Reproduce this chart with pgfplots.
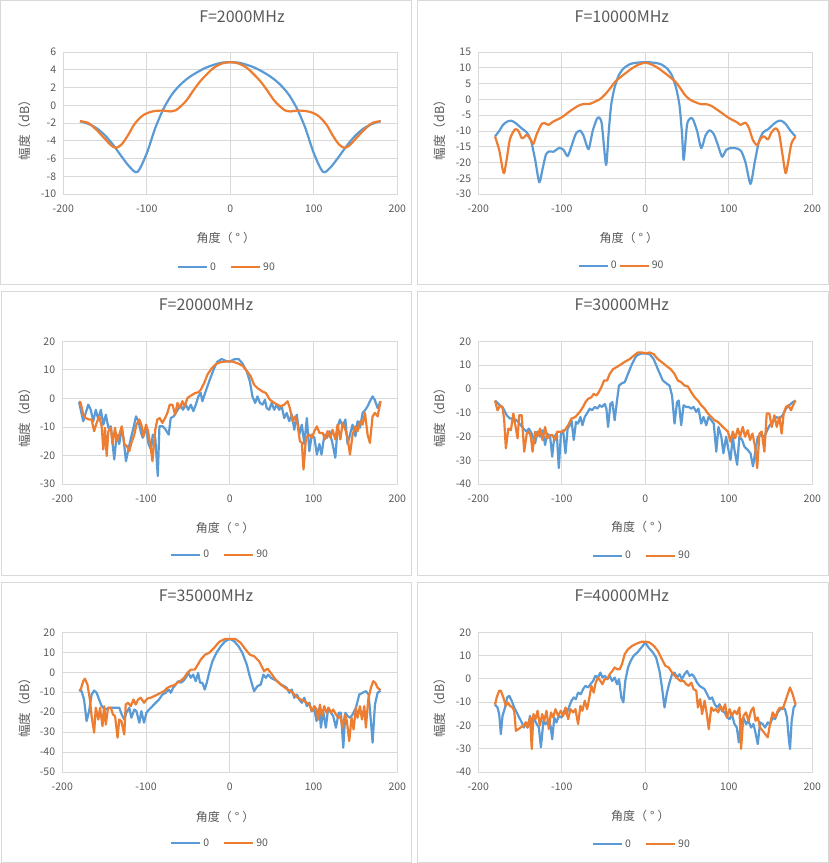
\documentclass[border=0pt]{standalone}
\usepackage{pgfplots}
\pgfplotsset{compat=1.18}
\usepackage{fontspec}
\setmainfont{Noto Sans CJK SC}
\definecolor{cblue}{HTML}{5B9BD5}
\definecolor{corange}{HTML}{ED7D31}
\definecolor{cgrid}{HTML}{D9D9D9}
\definecolor{ctext}{HTML}{595959}
\pgfplotsset{
  exstyle/.style={
    scale only axis, width=334bp, height=142bp,
    xmin=-200, xmax=200, xtick={-200,-100,0,100,200},
    grid=major, grid style={cgrid, line width=0.75bp},
    axis line style={cgrid, line width=0.75bp},
    major tick length=0pt,
    tick label style={font=\fontsize{10.5bp}{12bp}\selectfont, text=ctext, inner sep=0pt},
    xticklabel style={anchor=base, yshift=-18.8bp},
    yticklabel style={anchor=base east, xshift=-7bp, yshift=-3.8bp},
    /pgf/number format/assume math mode=true,
    xlabel={角度（\hspace{0.25em}°\hspace{0.25em}）}, ylabel={幅度（dB）},
    label style={font=\fontsize{12bp}{14bp}\selectfont, text=ctext},
    ylabel style={font=\fontsize{12.5bp}{14bp}\selectfont},
    title style={font=\fontsize{16bp}{18bp}\selectfont, text=ctext, anchor=base},
    legend style={draw=none, fill=none, font=\fontsize{10.5bp}{12bp}\selectfont, text=ctext, anchor=center, legend columns=2,
      /tikz/every even column/.append style={column sep=12bp}},
    legend image code/.code={\draw[##1, line width=2.2bp] (0bp,0bp) -- (29bp,0bp);},
    every axis plot/.append style={line width=2.2bp, line join=round},
  }
}
\begin{document}
\begin{tikzpicture}
\path[fill=white] (0,0) rectangle (829bp,863bp);
% panel borders
\draw[cgrid, line width=0.75bp] (0.5bp,579bp) rectangle (411.5bp,862.5bp);
\draw[cgrid, line width=0.75bp] (417.5bp,579bp) rectangle (828bp,862.5bp);
\draw[cgrid, line width=0.75bp] (1bp,288bp) rectangle (411bp,572bp);
\draw[cgrid, line width=0.75bp] (417.5bp,288bp) rectangle (828bp,572bp);
\draw[cgrid, line width=0.75bp] (1bp,0.5bp) rectangle (411bp,281bp);
\draw[cgrid, line width=0.75bp] (417.5bp,0.5bp) rectangle (828bp,281bp);

% ---------- Panel 1 ----------
\begin{axis}[exstyle, at={(63.3bp,669bp)}, anchor=south west,
  ymin=-10, ymax=6, ytick={-10,-8,...,6},
  title={F=2000MHz}, title style={at={(axis description cs:0.535,1.1676)}},
  xlabel style={at={(axis description cs:0.487,-0.308)}, anchor=center},
  ylabel style={at={(axis description cs:-0.115,0.47)}, anchor=center, rotate=0},
  legend style={at={(axis description cs:0.49,-0.514)}}]
\addplot[cblue, smooth, tension=0.5] coordinates {(-180,-1.8) (-170,-2.1) (-160,-2.6) (-150,-3.4) (-140,-4.5) (-130,-5.8) (-120,-7.0) (-111,-7.5) (-100,-5.4) (-90,-2.6) (-80,-0.4) (-70,1.2) (-60,2.3) (-50,3.1) (-40,3.7) (-30,4.2) (-20,4.55) (-10,4.8) (0,4.85) (10,4.8) (20,4.55) (30,4.2) (40,3.7) (50,3.1) (60,2.3) (70,1.2) (80,-0.4) (90,-2.6) (100,-5.4) (111,-7.5) (120,-7.0) (130,-5.8) (140,-4.5) (150,-3.4) (160,-2.6) (170,-2.1) (180,-1.8)};
\addplot[corange, smooth, tension=0.5] coordinates {(-180,-1.8) (-170,-2.0) (-160,-2.8) (-150,-3.8) (-143,-4.5) (-137,-4.8) (-130,-4.4) (-122,-3.3) (-116,-2.3) (-110,-1.6) (-104,-1.1) (-97,-0.8) (-90,-0.65) (-80,-0.6) (-72,-0.7) (-65,-0.55) (-58,0.0) (-52,0.6) (-44,1.7) (-36,2.7) (-28,3.5) (-20,4.2) (-10,4.7) (0,4.85) (10,4.7) (20,4.2) (28,3.5) (36,2.7) (44,1.7) (52,0.6) (58,0.0) (65,-0.55) (72,-0.7) (80,-0.6) (90,-0.65) (97,-0.8) (104,-1.1) (110,-1.6) (116,-2.3) (122,-3.3) (130,-4.4) (137,-4.8) (143,-4.5) (150,-3.8) (160,-2.8) (170,-2.0) (180,-1.8)};
\legend{0,90}
\end{axis}

% ---------- Panel 2 ----------
\begin{axis}[exstyle, at={(478.3bp,669bp)}, anchor=south west,
  ymin=-30, ymax=15, ytick={-30,-25,...,15},
  title={F=10000MHz}, title style={at={(axis description cs:0.43,1.1676)}},
  xlabel style={at={(axis description cs:0.451,-0.308)}, anchor=center},
  ylabel style={at={(axis description cs:-0.115,0.47)}, anchor=center, rotate=0},
  legend style={at={(axis description cs:0.429,-0.505)}, /tikz/every even column/.append style={column sep=0bp}}]
\addplot[cblue, smooth, tension=0.4] coordinates {(-180,-11.8) (-175,-10) (-170,-8) (-165,-7.0) (-160,-6.8) (-155,-7.6) (-148,-9.2) (-142,-10.5) (-137,-13) (-132,-19) (-127,-26.3) (-123,-22) (-119,-17.5) (-115,-16.5) (-110,-16.6) (-103,-15.4) (-98,-16) (-93,-18) (-88,-14.5) (-83,-10.8) (-78,-9.9) (-74,-11.5) (-68,-15.8) (-63,-10) (-58,-6.2) (-55,-5.8) (-52,-8) (-47,-20.8) (-44,-11) (-41,-2) (-37,3.5) (-32,7.5) (-26,9.8) (-18,11.2) (-10,11.6) (0,11.8) (10,11.6) (18,11.2) (26,9.8) (32,7.5) (37,3.5) (41,-2) (44,-11) (46,-19.2) (50,-8) (54,-6) (57,-6.3) (62,-10) (67,-15.5) (72,-11.5) (77,-9.8) (82,-11) (87,-14.5) (92,-18.2) (97,-16) (103,-15.4) (110,-15.6) (115,-16.5) (120,-20) (126,-26.8) (131,-20) (136,-13.5) (141,-10.5) (147,-9.5) (153,-8) (158,-7) (163,-6.8) (168,-7.8) (174,-10) (180,-11.8)};
\addplot[corange, smooth, tension=0.4] coordinates {(-180,-11.8) (-175,-16) (-171,-22) (-169,-23.4) (-166,-19) (-162,-12.5) (-156,-9.5) (-152,-10) (-148,-12.3) (-145,-12) (-142,-11.2) (-138,-12.5) (-134,-14.1) (-130,-11) (-124,-7.8) (-120,-7.6) (-116,-8.1) (-110,-7) (-100,-5.7) (-90,-3.7) (-80,-2.0) (-74,-1.5) (-66,-1.4) (-60,-0.7) (-54,0.1) (-48,1.6) (-42,3.5) (-36,5.6) (-26,7.8) (-16,9.8) (-8,11) (0,11.6) (8,11) (16,9.8) (26,7.8) (36,5.6) (42,3.5) (48,1.2) (54,-0.2) (60,-0.9) (66,-1.5) (74,-1.6) (80,-2.2) (92,-4.4) (100,-5.9) (110,-7.3) (114,-8.1) (120,-7.4) (124,-9) (129,-13) (134,-14.5) (138,-12.5) (142,-11.7) (147,-12.7) (151,-10.5) (156,-9.2) (160,-10.5) (164,-17) (168,-23.4) (171,-20) (175,-14) (180,-11.8)};
\legend{0,90}
\end{axis}

% ---------- Panel 3 ----------
\begin{axis}[exstyle, at={(62.3bp,379bp)}, anchor=south west, width=335bp, height=142.7bp,
  ymin=-30, ymax=20, ytick={-30,-20,...,20},
  title={F=20000MHz}, title style={at={(axis description cs:0.429,1.174)}},
  xlabel style={at={(axis description cs:0.486,-0.308)}, anchor=center},
  ylabel style={at={(axis description cs:-0.111,0.486)}, anchor=center, rotate=0},
  legend style={at={(axis description cs:0.471,-0.495)}}]
\addplot[cblue] coordinates {(-180,-1.3) (-178,-4) (-175,-8) (-172,-5.1) (-169,-2.2) (-166,-4) (-163,-8) (-160,-4) (-157,-7.4) (-154,-4) (-151,-9.2) (-148,-5.7) (-145,-10.3) (-142,-9.8) (-138,-21.4) (-135,-12.7) (-132,-16) (-129,-10.3) (-127,-13.8) (-124,-22) (-121.5,-18.5) (-118,-13.8) (-115,-10.3) (-112,-6.3) (-109,-8) (-106,-12) (-104,-13.8) (-100,-10.3) (-97,-16) (-94,-18) (-92,-12.7) (-89,-13.8) (-86,-27.2) (-84,-9.8) (-80,-9.8) (-76.5,-11) (-73,-12.7) (-70.5,-6.9) (-67,-6.3) (-64.5,-5.1) (-61,-3.4) (-58.5,-2.2) (-56,-4) (-52.5,-2.2) (-49.5,-4) (-46.5,-2.2) (-43.5,-4.5) (-40.6,-2.2) (-37.5,0.7) (-34.7,1.9) (-32.7,-1) (-29.5,1.9) (-24.7,5.9) (-18.7,10.6) (-14.7,12.9) (-9.6,13.8) (-4.8,13.1) (0,12.9) (5.2,13.7) (10.4,13.8) (15,12.3) (20.3,9.4) (24,5.9) (27,0.7) (30.3,-1.6) (33,0.7) (36,-1.6) (39,-2.2) (42,-0.5) (44,-3.4) (47,-4) (50,-1.6) (53,-4) (56,-2.2) (59,-4) (62,-2.8) (65,-6.9) (68,-5.1) (71,-8) (74,-5.7) (77,-11) (80,-5.7) (83,-12.7) (86,-9.2) (89,-16) (92,-6.9) (95,-18.5) (98,-12.7) (101,-13.8) (104,-19.7) (107,-16) (109.5,-19.7) (113,-12.7) (116,-13.8) (119,-11.5) (122,-15) (126,-20.8) (128.7,-10.3) (131.5,-7.4) (134.7,-9.8) (138,-7.4) (140.6,-16) (143.5,-12.7) (146.6,-9.2) (150,-13.3) (152.6,-8) (155.4,-10.3) (158.6,-5.1) (161.8,-4) (164.5,-2.8) (167.3,-1) (170.5,0.7) (173,-0.5) (176.5,-3.4) (180,-1)};
\addplot[corange] coordinates {(-180,-1) (-178,-1.6) (-175,-5.7) (-172,-6.9) (-168,-7.4) (-165,-7.4) (-162,-11.5) (-159,-8.6) (-156,-6.3) (-153,-9.8) (-151,-17.9) (-149,-10.3) (-147,-20.2) (-145,-11.5) (-142,-10.3) (-140,-16) (-137,-10.3) (-135,-15) (-132,-12.7) (-129,-9.8) (-126,-16) (-123,-16.7) (-120,-18.5) (-117.5,-15.6) (-114,-12.7) (-111.5,-9.2) (-108,-7.4) (-105.6,-9.2) (-103,-13.3) (-100,-9.2) (-97.6,-11.5) (-94.4,-17.3) (-92.4,-22) (-89,-11) (-86.5,-7.4) (-83.7,-6.9) (-80.5,-8.6) (-77.3,-6.9) (-74.5,-5.1) (-71.7,-2.2) (-68.5,-2.2) (-65.3,-5.7) (-62.5,-1.6) (-59.8,-3.4) (-56.6,-1) (-53.8,-2.8) (-50.6,0.1) (-47.8,0.7) (-44.6,1.3) (-41.4,1.9) (-37.5,2.1) (-34.7,3) (-30.7,5.3) (-26.7,8.3) (-21.5,10.6) (-16.7,12) (-10.8,12.7) (-4.8,12.9) (3.2,12.9) (9.2,12.3) (15,11.5) (21,9.4) (25,7.7) (29,4.8) (33,3.6) (39,2.4) (43,1.9) (48,-0.5) (53,-1.6) (57,-2.2) (61,-2.8) (65,-2.2) (69,-1) (71.7,-3.4) (75,-8) (77.7,-6.3) (81,-9.2) (83.7,-15) (86,-15.6) (88,-24.9) (91,-13.8) (95,-12.7) (98,-13.8) (101,-11.5) (104,-9.8) (107,-12.1) (111,-12.1) (113.5,-14.4) (116.7,-11.5) (120,-13.8) (122.7,-11) (126,-14.4) (128.7,-9.2) (132,-14.4) (134.7,-8.6) (138,-11) (140.6,-13.8) (143.5,-19.7) (146.6,-12.7) (150,-9.8) (152.6,-11.5) (155.8,-8) (158.6,-9.2) (161.4,-5.1) (164.5,-12.7) (167.3,-15.6) (170.5,-6.3) (173.3,-5.1) (176.5,-6.3) (180,-1)};
\legend{0,90}
\end{axis}

% ---------- Panel 4 ----------
\begin{axis}[exstyle, at={(478.3bp,379bp)}, anchor=south west, width=334bp, height=142.7bp,
  ymin=-40, ymax=20, ytick={-40,-30,...,20},
  title={F=30000MHz}, title style={at={(axis description cs:0.43,1.174)}},
  xlabel style={at={(axis description cs:0.485,-0.301)}, anchor=center},
  ylabel style={at={(axis description cs:-0.115,0.486)}, anchor=center, rotate=0},
  legend style={at={(axis description cs:0.49,-0.502)}}]
\addplot[cblue] coordinates {(-180,-4.9) (-176,-6.3) (-170,-8.3) (-166,-11.1) (-162,-12.5) (-158,-12.5) (-154,-13.2) (-150,-14.9) (-146,-16.7) (-142,-18) (-139.5,-16.7) (-136,-18.8) (-132,-22.9) (-129.5,-18) (-126,-20.1) (-123,-17.4) (-120,-23.6) (-117.5,-18.8) (-114,-20.1) (-111.5,-28.5) (-109,-20.1) (-106,-18.8) (-103.6,-33.3) (-101,-18.8) (-98.4,-17.4) (-95.6,-27.1) (-93,-16.7) (-90.4,-15.3) (-88.4,-13.2) (-85.7,-21.5) (-83,-13.9) (-80.5,-14.6) (-77.7,-11.8) (-75.3,-15.3) (-72.5,-11.8) (-70,-10.4) (-66.5,-8.3) (-63.7,-9) (-60.5,-7.6) (-57.4,-8.3) (-54.6,-6.9) (-51.8,-7.6) (-48.6,-6.3) (-46.6,-8.3) (-44.6,-16) (-41.8,-6.3) (-39.4,-5.6) (-36.7,-13.2) (-33.9,-4.9) (-31.5,1.4) (-27.9,2.4) (-24.7,2.8) (-20.7,6.3) (-16,10.4) (-10.8,13.9) (-4.8,14.9) (0,14.9) (5.2,14.6) (10,12.5) (15,8.3) (21,3.5) (26,2.1) (29,1.4) (32,-2.8) (35,-14.6) (38,-5.6) (40,-4.9) (43,-15.3) (45.8,-6.9) (49,-7.6) (52,-7.6) (55,-8.3) (57.8,-7.6) (61,-9.7) (63.7,-8.3) (67,-14.6) (69.7,-11.8) (73,-15.3) (75.7,-11.8) (79,-13.2) (82,-14.6) (85,-26.4) (87.6,-16) (91,-20.1) (93.6,-27.1) (96.8,-20.1) (99.6,-25.7) (102,-29.9) (104.8,-20.1) (106.8,-25.7) (110,-31.9) (112.7,-20.1) (116,-21.5) (118.7,-24.3) (122.7,-25.7) (126,-27.1) (129,-32.6) (132,-25.7) (134.7,-20.1) (138.6,-19.4) (142.6,-20.1) (146,-17.4) (149,-15.3) (152.6,-13.9) (156.6,-11.8) (160.6,-12.5) (164.5,-11.1) (168.5,-8.3) (172.5,-6.9) (176.5,-5.6) (180,-4.9)};
\addplot[corange] coordinates {(-180,-4.9) (-177,-9) (-174,-6.9) (-171,-7.6) (-169,-13.2) (-167,-25) (-164,-16.7) (-161,-17.4) (-158,-10.4) (-156,-14.6) (-153,-20.8) (-151,-11.1) (-148,-11.1) (-145,-26.4) (-142,-18.8) (-139.5,-18) (-137,-20.1) (-135,-26.4) (-132,-18) (-129.5,-20.1) (-126,-16.7) (-123,-21.5) (-120,-16) (-117.5,-20.8) (-114,-19.4) (-111.5,-19.4) (-108,-21.5) (-105.6,-18) (-102.4,-18) (-99.6,-18) (-96.4,-17.4) (-92.4,-15.3) (-88.4,-12.5) (-83.7,-11.8) (-78.5,-9.7) (-74.5,-7.6) (-71.7,-5.6) (-68.5,-4.2) (-64.5,-3.5) (-61.8,-2.1) (-58.6,-2.8) (-55.8,-1.4) (-52.6,0.7) (-49.4,3.5) (-45.8,3.5) (-42.6,6.3) (-38.6,8.3) (-33.5,9.3) (-28.7,10.4) (-24,11.5) (-18.7,12.5) (-14,13.9) (-8.8,15.3) (-4,15.3) (0.4,14.9) (5.2,15.3) (10,14.6) (15,12.5) (20.3,11.1) (25,9.7) (30.3,8.3) (35,6.3) (39,3.5) (43,2.8) (47,1.4) (51,1) (55,-1.4) (59,-3.5) (63,-4.9) (67,-6.9) (71,-8.3) (75,-10.4) (79,-11.8) (83,-13.2) (87,-13.9) (91,-15.3) (95,-16.7) (99,-18) (102,-22.2) (104.8,-18) (107.6,-20.8) (110.8,-16.7) (113.5,-20.1) (116.7,-16) (119.5,-20.1) (122.7,-17.4) (125.5,-21.5) (128.3,-18.8) (131.5,-24.3) (134,-33.3) (136.7,-18.8) (139.4,-18) (142.6,-26.4) (145.4,-10.4) (148.6,-10.4) (151.4,-16) (154.6,-11.1) (157.4,-16) (160.6,-11.8) (163.3,-18.8) (165.7,-10.4) (168.5,-7.6) (171.3,-6.9) (174.5,-9) (177.7,-6.3) (180,-4.9)};
\legend{0,90}
\end{axis}

% ---------- Panel 5 ----------
\begin{axis}[exstyle, at={(62.3bp,91bp)}, anchor=south west, width=335bp, height=139.7bp,
  ymin=-50, ymax=20, ytick={-50,-40,...,20},
  title={F=35000MHz}, title style={at={(axis description cs:0.429,1.1775)}},
  xlabel style={at={(axis description cs:0.486,-0.322)}, anchor=center},
  ylabel style={at={(axis description cs:-0.111,0.482)}, anchor=center, rotate=0},
  legend style={at={(axis description cs:0.471,-0.508)}}]
\addplot[cblue] coordinates {(-180,-9) (-177,-9.5) (-174,-13.7) (-171,-24.5) (-168,-19.5) (-165,-11.2) (-162,-9.2) (-159,-10.3) (-156,-13.7) (-153,-17) (-149,-18.7) (-144,-17.8) (-140,-17.8) (-136,-17.8) (-132,-17.8) (-129,-21.2) (-126,-23.7) (-123.5,-20.3) (-120,-17.8) (-117.5,-22.8) (-114,-18.7) (-111.5,-19.5) (-108,-25.3) (-105.6,-19.5) (-102.4,-25.3) (-99.6,-20.3) (-96.4,-18.7) (-92.4,-17) (-88.4,-15.3) (-84.5,-13.7) (-80.5,-11.2) (-76.5,-10.3) (-73,-8.7) (-70.5,-10.3) (-67.7,-7.8) (-64.5,-6.2) (-61.8,-4.5) (-58.6,-5.3) (-55.8,-4.5) (-52.6,-2.8) (-49.4,-0.3) (-46.6,-2.8) (-43.8,-1.2) (-40.6,-4.5) (-37.8,-0.3) (-35.5,-5.3) (-32.7,-5.3) (-29.9,-8.7) (-27.5,-5.3) (-24.7,-0.3) (-20.7,5.5) (-16,9.7) (-10.8,13) (-5.6,15.5) (0,16.7) (5.2,15.5) (10.4,13) (15,9.7) (20.3,3.8) (24.3,-2.8) (29,-9.5) (33,-7) (37,-6.2) (40,-1.2) (43,-2.8) (45.8,-1.2) (49,-2.8) (53,-3.7) (57,-4.5) (61,-6.2) (65,-7) (68,-7.8) (71,-10.3) (74,-8.7) (77,-12.8) (80,-11.2) (83,-13.7) (86,-15.3) (89,-12.8) (92,-17) (95,-15.3) (97.6,-19.5) (101,-18.7) (103.6,-24.5) (106.8,-17.8) (108.8,-27.8) (111.5,-19.5) (114.7,-27.8) (117.5,-17.8) (120.7,-20.3) (123.5,-22) (126.7,-27.8) (130,-20.3) (132.7,-20.3) (135.5,-37.8) (138,-20.3) (140.6,-22) (143.5,-22.8) (146.6,-21.2) (150.6,-17.8) (154.6,-11.2) (158.6,-10.3) (162.5,-9.5) (165.7,-11.2) (168.5,-24.5) (170.5,-35.3) (173.3,-16.2) (176.5,-10.3) (180,-9.2)};
\addplot[corange] coordinates {(-180,-9) (-178,-8.7) (-175,-4.5) (-173,-3.2) (-170,-6.2) (-167,-13.7) (-165,-22) (-162,-30.3) (-160,-17.8) (-157,-23.7) (-155,-17.8) (-152,-27) (-150,-17) (-148,-26.2) (-145.4,-17.8) (-142,-17.8) (-139.5,-21.2) (-137,-22) (-134,-32.8) (-132,-23.7) (-129.5,-24.5) (-126,-31.2) (-124.3,-16.2) (-121.5,-15.3) (-118.3,-17) (-115,-13.7) (-112.4,-16.2) (-109.5,-13.7) (-106.4,-12.8) (-102.4,-15.3) (-98.4,-13.2) (-94.4,-12.8) (-90.4,-12) (-86.5,-11.2) (-82.5,-10.3) (-78.5,-9.5) (-74.5,-7.8) (-70.5,-7) (-66.5,-6.5) (-62.5,-5.3) (-58.6,-4.2) (-54.6,-2.8) (-50.6,-0.3) (-46.6,1.3) (-41.8,1.3) (-38.6,3.5) (-34.7,6.3) (-29.5,8.8) (-24.7,9.7) (-18.7,12.2) (-12.7,15.2) (-5.6,16.7) (0,16.7) (6.4,16.7) (13,14.7) (19,11.3) (24,8.8) (29,8) (35,5.5) (41,0.5) (45,1.8) (49,-0.3) (53,-2.8) (57,-4.8) (61,-6.2) (65,-7.5) (69,-8.7) (73,-9.5) (77,-11.2) (81,-12.8) (85,-13.7) (89,-14.5) (92,-15.3) (95,-16.2) (98,-19.5) (101,-17) (103.6,-18.7) (105.6,-23.7) (107.6,-16.2) (110,-22) (112.7,-17) (115.5,-20.3) (118,-17.8) (120.7,-20.3) (123.5,-18.7) (126.7,-21.2) (129.5,-22.8) (131.9,-22) (134.7,-27.8) (137.5,-21.2) (139.8,-24.5) (142.6,-34.5) (145.4,-22.8) (147.8,-28.7) (150.6,-17.8) (152.6,-22.8) (155.4,-17) (157.8,-23.7) (160.6,-17) (162.5,-27.8) (165.3,-13.7) (168.5,-7.8) (171.3,-4.5) (173.7,-5.3) (176.5,-7.8) (180,-9)};
\legend{0,90}
\end{axis}

% ---------- Panel 6 ----------
\begin{axis}[exstyle, at={(478.3bp,91bp)}, anchor=south west, width=334bp, height=139.7bp,
  ymin=-40, ymax=20, ytick={-40,-30,...,20},
  title={F=40000MHz}, title style={at={(axis description cs:0.43,1.1775)}},
  xlabel style={at={(axis description cs:0.485,-0.313)}, anchor=center},
  ylabel style={at={(axis description cs:-0.115,0.482)}, anchor=center, rotate=0},
  legend style={at={(axis description cs:0.49,-0.515)}}]
\addplot[cblue] coordinates {(-180,-11.1) (-177,-12.3) (-175,-15.1) (-173,-23.7) (-171,-15.9) (-168,-12.3) (-165.5,-8) (-163,-7.3) (-160,-9.4) (-157,-12.3) (-154,-14.4) (-151,-16.6) (-148,-18.7) (-145.4,-20.9) (-143,-18.7) (-141,-20.9) (-138,-15.9) (-135.5,-19.4) (-133,-17.3) (-130,-19.4) (-127.5,-20.9) (-125,-29.4) (-122,-18) (-119.5,-19.4) (-116.3,-18) (-113.5,-20.1) (-111.5,-25.9) (-109,-16.6) (-106.4,-18.7) (-103.6,-15.9) (-100.4,-16.6) (-97.2,-13.7) (-94.4,-15.1) (-91.6,-12.3) (-88.4,-9.4) (-85.7,-8) (-83.3,-8.7) (-80.5,-5.9) (-77.3,-6.6) (-74.5,-4.4) (-71.7,-3) (-68.5,-3.7) (-65.7,-2.3) (-62.5,-0.9) (-59.8,1.3) (-56.6,0.6) (-53.8,2.7) (-51.4,0.6) (-48.6,1.3) (-45.4,-0.1) (-42.6,1.3) (-39.8,-0.9) (-36.7,0.6) (-33.9,-2.3) (-31.5,-0.1) (-28.7,-8) (-26.3,-10.1) (-24,-0.9) (-20.7,4.9) (-17.5,7.7) (-14,9.9) (-9.6,11.3) (-4.8,13.4) (0,15.6) (4,13.4) (9.2,11.3) (13,9.1) (17,3.4) (20,-3.7) (23,-12.3) (26,-5.9) (29,-1.6) (32,2) (35,2.7) (38,0.6) (41,2) (43.8,-0.1) (47,2) (50,3.4) (53,1.3) (56,2) (59,0.6) (62,-1.6) (65,-3) (68,-3.7) (71,-4.4) (74,-6.6) (77,-8.7) (80,-8) (83,-10.9) (86,-12.3) (89,-10.9) (91.6,-13.7) (95,-14.4) (98,-16.6) (101,-17.3) (103.6,-15.1) (106.8,-19.4) (109.6,-20.9) (112,-27.3) (114.7,-18) (117.5,-16.6) (120.7,-19.4) (123.5,-18) (126.7,-20.9) (129.5,-19.4) (132.3,-23.7) (134.7,-28) (137.5,-18.7) (140.6,-19.4) (143.5,-20.9) (146.6,-18.7) (149.4,-19.4) (152.6,-16.6) (155.4,-17.3) (158.6,-14.4) (161.8,-13) (164.5,-12.3) (167.3,-13) (169.7,-16.6) (171.7,-25.1) (173.3,-30.1) (175.3,-18) (177.7,-12.3) (180,-11.1)};
\addplot[corange] coordinates {(-180,-11.1) (-178,-8) (-175,-5.1) (-173,-5.1) (-170,-8) (-167,-11.6) (-165,-10.1) (-162,-11.6) (-159,-12.3) (-157,-13.7) (-155,-22.3) (-152,-21.6) (-149.4,-20.9) (-146,-20.1) (-143,-18.7) (-141,-20.9) (-138,-16.6) (-136,-30.1) (-134,-15.1) (-131.5,-17.3) (-129,-13.7) (-126.3,-20.1) (-123.5,-15.1) (-121,-18) (-118.3,-13.7) (-115.5,-21.6) (-113,-14.4) (-110.4,-16.6) (-107.6,-13) (-104.4,-15.9) (-101.2,-13.7) (-98.4,-15.9) (-95.6,-12.3) (-92.4,-17.3) (-89.6,-13) (-86.5,-14.4) (-83.7,-13) (-80.5,-19.4) (-77.7,-11.6) (-75.3,-13.7) (-72.5,-9.4) (-69.7,-13) (-67.3,-8.7) (-64.5,-3) (-61.8,-5.9) (-59.4,-1.6) (-56.6,0.6) (-53.8,-0.9) (-51.4,-2.3) (-48.6,-0.1) (-45.4,-0.1) (-42.6,2) (-39.4,3.4) (-36.7,4.9) (-33.5,4.1) (-30.7,4.1) (-27.9,6.3) (-24.7,10.6) (-20.7,12.7) (-16,14.1) (-10.8,15.1) (-4.8,15.9) (0,16) (5.2,15.6) (10.4,14.1) (15,12) (20,8.4) (24,5.6) (28,4.9) (32,2.7) (37,0.6) (42,-0.9) (46,-0.9) (49,-2.3) (52,-3) (55,-1.6) (57.8,-4.4) (61,-5.1) (63,-12.3) (65.7,-8.7) (68,-15.1) (71,-9.4) (73.7,-15.1) (76,-21.6) (79,-12.3) (81.7,-13.7) (84.5,-13) (87.3,-14.4) (90,-11.6) (92.8,-13.7) (95.6,-10.9) (98,-16.6) (101,-13) (103.6,-15.9) (106.8,-13.7) (109.6,-15.1) (112.7,-12.3) (114.7,-30.1) (117.5,-15.9) (120.7,-14.4) (123.5,-18) (126.7,-13.7) (129.5,-12.3) (132,-18) (134.7,-16.6) (137.5,-20.9) (140.6,-22.3) (143.5,-23.7) (146.6,-25.1) (149.4,-19.4) (152.6,-14.4) (155.8,-16.6) (158.6,-13.7) (161.4,-12.3) (164.5,-13) (167.3,-10.1) (170.5,-6.6) (173.3,-3.7) (176.5,-6.6) (180,-11.1)};
\legend{0,90}
\end{axis}
\end{tikzpicture}
\end{document}
